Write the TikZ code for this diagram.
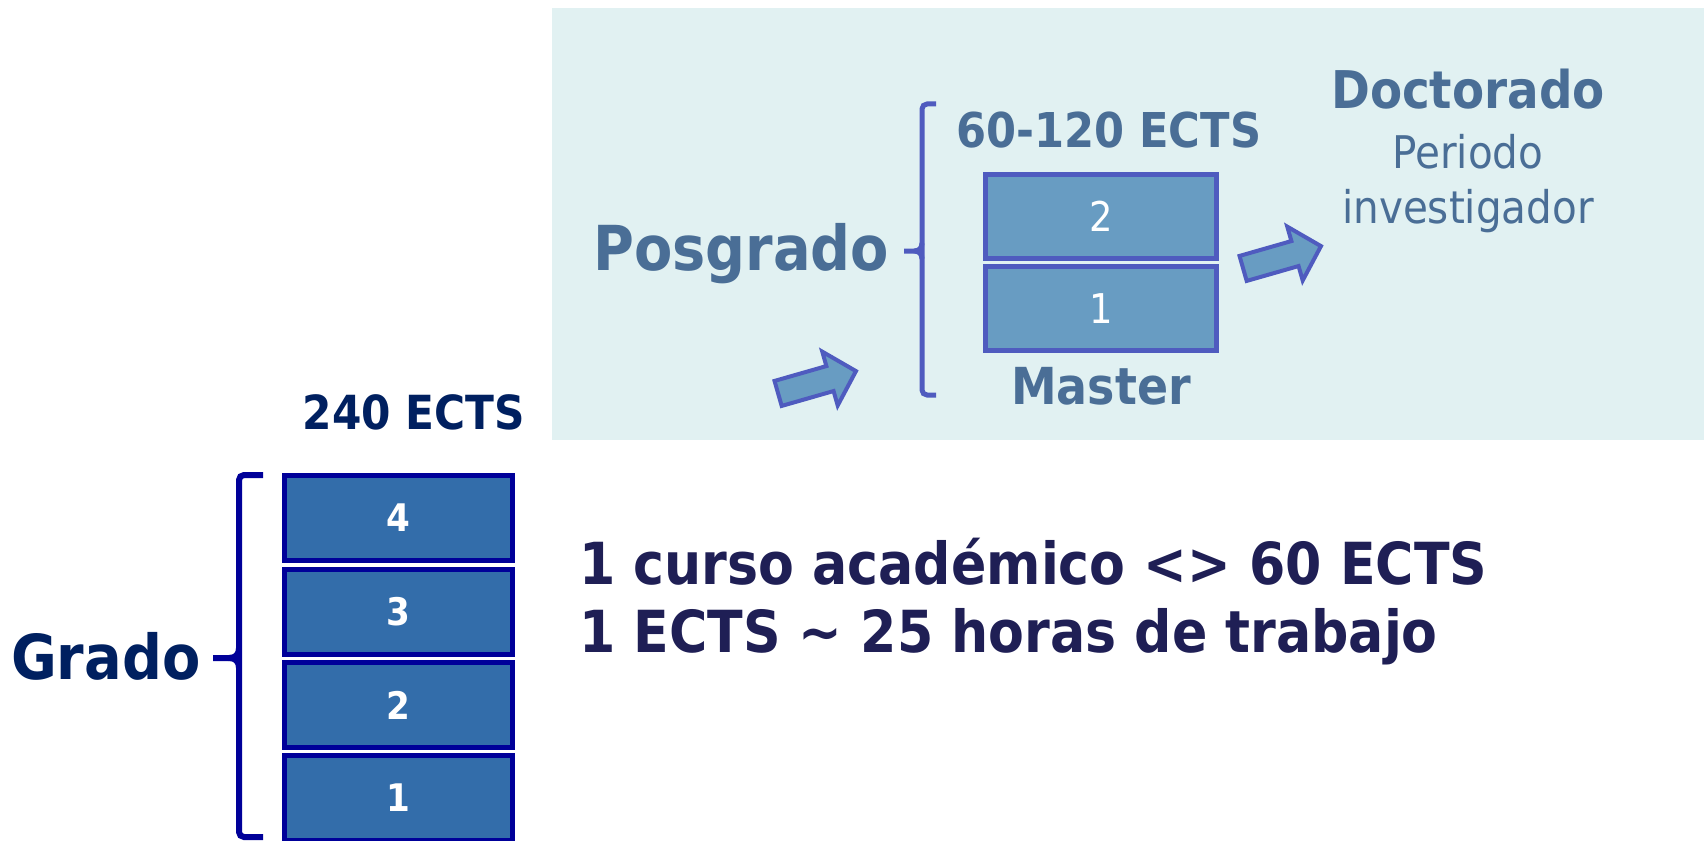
\documentclass[tikz,border=0pt]{standalone}
\usepackage{fontspec}
\setmainfont{DejaVu Sans Condensed}[BoldFont={DejaVu Sans Condensed Bold}]
\usetikzlibrary{shapes.arrows}
\definecolor{marino}{HTML}{002060}
\definecolor{azulosc}{HTML}{000099}
\definecolor{cajagrado}{HTML}{336DAA}
\definecolor{acero}{HTML}{4A6E96}
\definecolor{violeta}{HTML}{4F5BBF}
\definecolor{cajamaster}{HTML}{689CC2}
\definecolor{fondo}{HTML}{E1F1F2}
\definecolor{tinta}{HTML}{1F1F55}
\newcommand{\tam}[1]{\fontsize{#1}{#1}\selectfont}

\begin{document}
\begin{tikzpicture}[x=1pt, y=-1pt,
    curso/.style={rectangle, draw=azulosc, line width=5pt, fill=cajagrado,
        minimum width=228pt, minimum height=85pt, inner sep=0pt,
        text=white, font=\bfseries\tam{38}},
    anyo/.style={rectangle, draw=violeta, line width=5pt, fill=cajamaster,
        minimum width=231pt, minimum height=84pt, inner sep=0pt,
        text=white, font=\tam{41}},
    flecha/.style={single arrow, draw=violeta, line width=4pt, fill=cajamaster,
        minimum height=81pt, inner xsep=0pt, inner ysep=11pt,
        single arrow head extend=15pt, single arrow tip angle=92, rotate=16},
    etiq/.style={inner sep=0pt},
    llave/.style={line width=6pt, rounded corners=5pt}
]
\useasboundingbox (0,0) rectangle (1704,840);

% Posgrado
\fill[fondo] (552,8) rectangle (1704,440);

\node[etiq, anchor=base west, text=acero, font=\bfseries\tam{62}] (posgrado) at (593,270) {Posgrado};
\node[etiq, anchor=base west, text=acero, font=\bfseries\tam{48}] (ectsmaster) at (956,147) {60-120 ECTS};
\node[anyo] (m2) at (1101,216.5) {2};
\node[anyo] (m1) at (1101,308.5) {1};
\node[etiq, anchor=base, text=acero, font=\bfseries\tam{51}] (master) at (1101,404) {Master};

\coordinate (p1) at (936,104);
\coordinate (p2) at (936,395);
\coordinate (pm) at (904,251);
\draw[llave, violeta, line width=5pt] (p1) -- (922,104) -- (922,395) -- (p2);
\draw[violeta, line width=5pt] (922,243) .. controls (922,248) and (919,251) .. (914,251) -- (pm);
\draw[violeta, line width=5pt] (922,259) .. controls (922,254) and (919,251) .. (914,251);

\node[flecha] (f1) at (811,384) {};
\node[flecha] (f2) at (1276,259) {};

\node[etiq, anchor=base, text=acero, font=\bfseries\tam{52}] (doctorado) at (1468,109) {Doctorado};
\node[etiq, anchor=base, text=acero, font=\tam{45}] (periodo) at (1468,168) {Periodo};
\node[etiq, anchor=base, text=acero, font=\tam{45}] (investigador) at (1468,223) {investigador};

% Grado
\node[etiq, anchor=base east, text=marino, font=\bfseries\tam{47}] (ectsgrado) at (525,429) {240 ECTS};
\node[curso] (g4) at (398.5,518) {4};
\node[curso] (g3) at (398.5,612) {3};
\node[curso] (g2) at (398.5,705) {2};
\node[curso] (g1) at (398.5,798) {1};

\coordinate (b1) at (263,475);
\coordinate (b2) at (263,837);
\coordinate (bm) at (213,658);
\draw[llave, azulosc] (b1) -- (239,475) -- (239,837) -- (b2);
\draw[azulosc, line width=6pt] (239,648) .. controls (239,654) and (236,658) .. (229,658) -- (bm);
\draw[azulosc, line width=6pt] (239,668) .. controls (239,662) and (236,658) .. (229,658);

\node[etiq, anchor=base west, text=marino, font=\bfseries\tam{62}] (grado) at (11,679) {Grado};

% Equivalencias
\node[etiq, anchor=base west, text=tinta, font=\bfseries\tam{58}] (linea1) at (579,584) {1 curso académico <> 60 ECTS};
\node[etiq, anchor=base west, text=tinta, font=\bfseries\tam{58}] (linea2) at (579,652) {1 ECTS \textasciitilde{} 25 horas de trabajo};
\end{tikzpicture}
\end{document}
